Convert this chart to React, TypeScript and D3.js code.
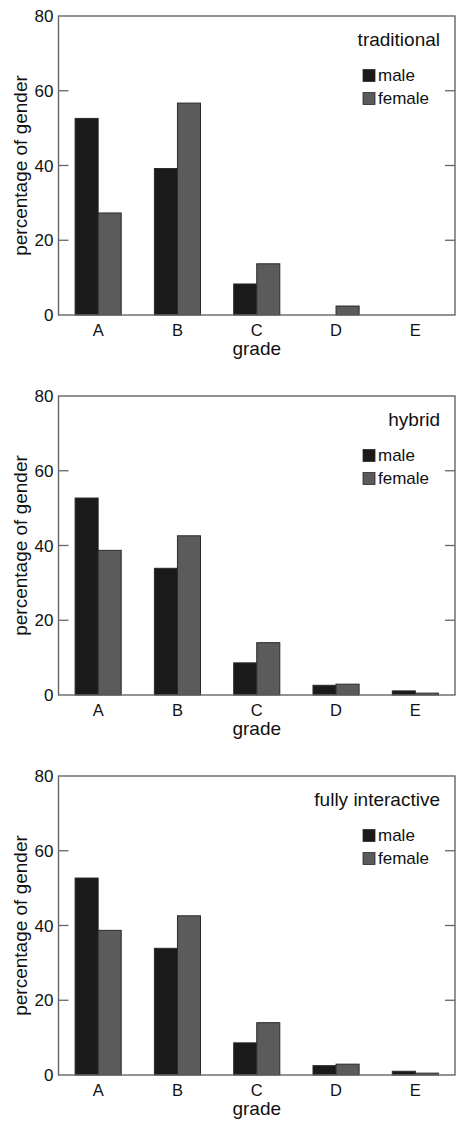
import React, { useEffect, useRef } from 'react';
import * as d3 from 'd3';

const grades = ['A', 'B', 'C', 'D', 'E'];
const panelTitles = ['traditional', 'hybrid', 'fully interactive'];
const maleTraditional = [52.6, 39.2, 8.3, 0, 0];
const femaleTraditional = [27.3, 56.7, 13.7, 2.4, 0];
const maleHybrid = [52.7, 33.9, 8.6, 2.6, 1.1];
const femaleHybrid = [38.7, 42.6, 14.0, 2.9, 0.5];
const maleInteractive = [52.7, 33.9, 8.6, 2.5, 1.0];
const femaleInteractive = [38.7, 42.6, 14.0, 2.9, 0.5];
const yTicks = [0, 20, 40, 60, 80];
const genders = ['male', 'female'];

const W = 457;
const H = 1124;
const FONT = 'Liberation Sans, Arial, Helvetica, sans-serif';
const COLORS: Record<string, string> = { male: '#1a1a1a', female: '#5b5b5b' };

const App = () => {
  const ref = useRef<SVGSVGElement>(null);

  useEffect(() => {
    drawChart(ref.current);
  }, []);

  return (
    <svg
      ref={ref}
      width={W}
      height={H}
      style={{ position: 'absolute', left: 0, top: 0, background: '#fff' }}
    />
  );
};

function drawChart(node: SVGSVGElement | null) {
  if (!node) return;
  const root = d3.select(node);
  root.selectAll('*').remove();

  const panels = [
    { title: panelTitles[0], male: maleTraditional, female: femaleTraditional },
    { title: panelTitles[1], male: maleHybrid, female: femaleHybrid },
    { title: panelTitles[2], male: maleInteractive, female: femaleInteractive },
  ];
  const tops = [16, 396, 776];
  const left = 58.5;
  const right = 455;
  const plotH = 299;

  const x = d3.scaleBand().domain(grades).range([left, right]).padding(0);
  // two bars of ~23px centred in each ~79px band
  const xs = d3.scaleBand().domain(genders).range([0, x.bandwidth()]).paddingInner(0).paddingOuter(0.72);

  panels.forEach((p, i) => {
    const top = tops[i];
    const y = d3.scaleLinear().domain([0, 80]).range([top + plotH, top]);
    const g = root.append('g');

    // bars
    genders.forEach((gender) => {
      const vals = gender === 'male' ? p.male : p.female;
      g.selectAll(null)
        .data(grades.map((gr, k) => ({ gr, v: vals[k] })).filter((d) => d.v > 0))
        .enter()
        .append('rect')
        .attr('x', (d) => (x(d.gr) as number) + (xs(gender) as number))
        .attr('y', (d) => y(d.v))
        .attr('width', xs.bandwidth())
        .attr('height', (d) => y(0) - y(d.v))
        .attr('fill', COLORS[gender])
        .attr('stroke', '#2a2a2a')
        .attr('stroke-width', 1);
    });

    // frame
    g.append('rect')
      .attr('x', left)
      .attr('y', top)
      .attr('width', right - left)
      .attr('height', plotH)
      .attr('fill', 'none')
      .attr('stroke', '#666')
      .attr('stroke-width', 1.4);

    // y ticks (inward, both sides)
    yTicks.slice(1, -1).forEach((t) => {
      g.append('line').attr('x1', left).attr('x2', left + 10).attr('y1', y(t)).attr('y2', y(t)).attr('stroke', '#666').attr('stroke-width', 1.3);
      g.append('line').attr('x1', right - 10).attr('x2', right).attr('y1', y(t)).attr('y2', y(t)).attr('stroke', '#666').attr('stroke-width', 1.3);
    });
    yTicks.forEach((t) => {
      g.append('text')
        .attr('x', left - 5)
        .attr('y', y(t))
        .attr('dy', '0.36em')
        .attr('text-anchor', 'end')
        .style('font-family', FONT)
        .style('font-size', '17px')
        .attr('fill', '#111')
        .text(t);
    });

    // x labels
    grades.forEach((gr) => {
      g.append('text')
        .attr('x', (x(gr) as number) + x.bandwidth() / 2)
        .attr('y', top + plotH + 21)
        .attr('text-anchor', 'middle')
        .style('font-family', FONT)
        .style('font-size', '16.5px')
        .attr('fill', '#111')
        .text(gr);
    });

    g.append('text')
      .attr('x', (left + right) / 2)
      .attr('y', top + plotH + 40)
      .attr('text-anchor', 'middle')
      .style('font-family', FONT)
      .style('font-size', '19px')
      .attr('fill', '#111')
      .text('grade');

    g.append('text')
      .attr('transform', `translate(27,${top + plotH / 2}) rotate(-90)`)
      .attr('text-anchor', 'middle')
      .style('font-family', FONT)
      .style('font-size', '19px')
      .attr('fill', '#111')
      .text('percentage of gender');

    // legend
    g.append('text')
      .attr('x', right - 15)
      .attr('y', top + 30)
      .attr('text-anchor', 'end')
      .style('font-family', FONT)
      .style('font-size', '19px')
      .attr('fill', '#111')
      .text(p.title);

    genders.forEach((gender, k) => {
      const ly = top + 65 + k * 23;
      g.append('rect')
        .attr('x', 363)
        .attr('y', ly - 11.5)
        .attr('width', 12)
        .attr('height', 12)
        .attr('fill', COLORS[gender])
        .attr('stroke', '#2a2a2a')
        .attr('stroke-width', 0.8);
      g.append('text')
        .attr('x', 378)
        .attr('y', ly)
        .style('font-family', FONT)
        .style('font-size', '17px')
        .attr('fill', '#111')
        .text(gender);
    });
  });
}

export default App;
